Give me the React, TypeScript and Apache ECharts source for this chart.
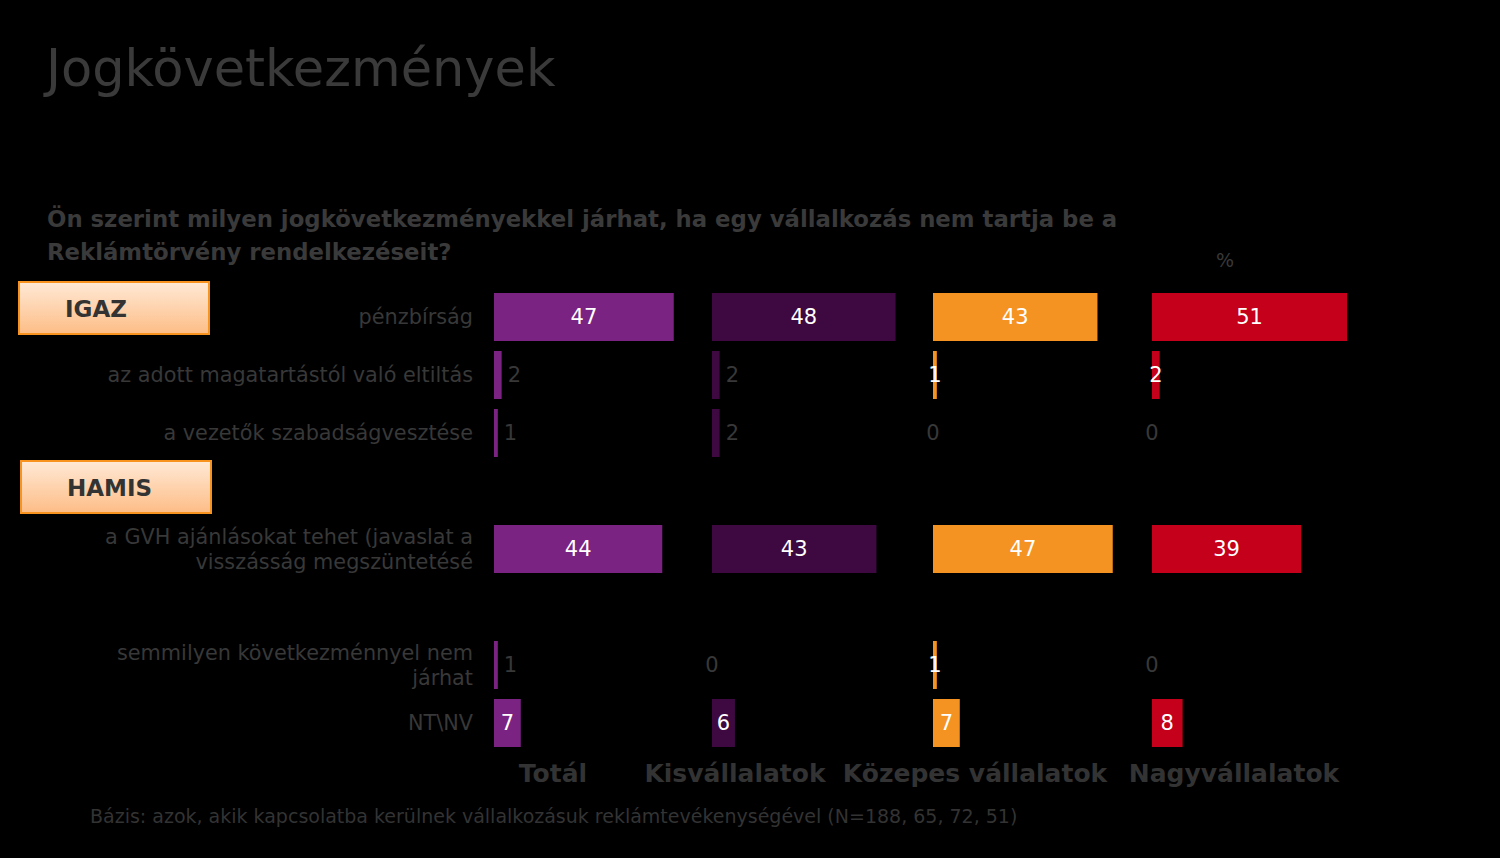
import React, { useEffect, useRef } from "react";
import * as echarts from "echarts";

const categories = [
  "pénzbírság",
  "az adott magatartástól való eltiltás",
  "a vezetők szabadságvesztése",
  "",
  "a GVH ajánlásokat tehet (javaslat a\nvisszásság megszüntetésé",
  " ",
  "semmilyen következménnyel nem\njárhat",
  "NT\\NV",
];

const seriesNames = ["Totál", "Kisvállalatok", "Közepes vállalatok", "Nagyvállalatok"];
const totalValues = [47, 2, 1, null, 44, null, 1, 7];
const kisValues = [48, 2, 2, null, 43, null, 0, 6];
const kozepesValues = [43, 1, 0, null, 47, null, 1, 7];
const nagyValues = [51, 2, 0, null, 39, null, 0, 8];

const colors = ["#7b2382", "#3d0940", "#f59322", "#c5001a"];
const smallModes = ["right", "right", "inside", "inside"];
const gridLefts = [494, 712, 933, 1152];
const nameCenters = [553, 735, 975, 1234];

const GRAY = "#383838";
const FONT = "DejaVu Sans";

function makeItem(v: number | null, mode: string) {
  if (v === null) return null;
  let label: any;
  if (v >= 5) label = { position: "inside", color: "#ffffff" };
  else if (v === 0) label = { position: "inside", color: GRAY };
  else if (mode === "right") label = { position: "right", color: GRAY, distance: 6 };
  else label = { position: "inside", color: "#ffffff" };
  return { value: v, label };
}

export default function App() {
  const ref = useRef<HTMLDivElement>(null);
  useEffect(() => {
    document.body.style.margin = "0";
    document.body.style.background = "#000";
    const chart = echarts.init(ref.current!, null, { renderer: "svg" });
    const all = [totalValues, kisValues, kozepesValues, nagyValues];
    const grids = gridLefts.map((l) => ({ left: l, top: 288, width: 218, height: 464 }));
    const xAxes = gridLefts.map((_, i) => ({
      type: "value",
      gridIndex: i,
      min: 0,
      max: 57,
      show: false,
    }));
    const yAxes = gridLefts.map((_, i) => ({
      type: "category",
      gridIndex: i,
      data: categories,
      inverse: true,
      axisLine: { show: false },
      axisTick: { show: false },
      splitLine: { show: false },
      axisLabel: {
        show: i === 0,
        color: GRAY,
        fontFamily: FONT,
        fontSize: 20.8,
        margin: 21,
        lineHeight: 25,
        align: "right",
      },
    }));
    const series = all.map((vals, i) => ({
      type: "bar",
      name: seriesNames[i],
      xAxisIndex: i,
      yAxisIndex: i,
      barWidth: 48,
      itemStyle: { color: colors[i] },
      label: { show: true, fontFamily: FONT, fontSize: 21 },
      data: vals.map((v) => makeItem(v, smallModes[i])),
    }));
    const boxStyle = (text: string, x: number, y: number) => ({
      type: "group",
      x,
      y,
      children: [
        {
          type: "rect",
          shape: { x: 0, y: 0, width: 190, height: 52 },
          style: {
            fill: new echarts.graphic.LinearGradient(0, 0, 0, 1, [
              { offset: 0, color: "#ffe9d6" },
              { offset: 1, color: "#fdbd86" },
            ]),
            stroke: "#f7931e",
            lineWidth: 2,
          },
        },
        {
          type: "text",
          x: 46,
          y: 27,
          style: {
            text,
            fill: "#333333",
            font: `bold 23px ${FONT}`,
            align: "left",
            verticalAlign: "middle",
          },
        },
      ],
    });
    const graphic: any[] = [
      {
        type: "text",
        x: 46,
        y: 68,
        style: {
          text: "Jogkövetkezmények",
          fill: "#3a3a3a",
          font: `51px ${FONT}`,
          verticalAlign: "middle",
        },
      },
      {
        type: "text",
        x: 47,
        y: 202,
        style: {
          text:
            "Ön szerint milyen jogkövetkezményekkel járhat, ha egy vállalkozás nem tartja be a\nReklámtörvény rendelkezéseit?",
          fill: "#3a3a3a",
          font: `bold 22.8px ${FONT}`,
          lineHeight: 33,
        },
      },
      {
        type: "text",
        x: 1225,
        y: 260,
        style: { text: "%", fill: GRAY, font: `19px ${FONT}`, align: "center", verticalAlign: "middle" },
      },
      boxStyle("IGAZ", 19, 282),
      boxStyle("HAMIS", 21, 461),
      ...seriesNames.map((n, i) => ({
        type: "text",
        x: nameCenters[i],
        y: 773,
        style: {
          text: n,
          fill: "#333333",
          font: `bold 25px ${FONT}`,
          align: "center",
          verticalAlign: "middle",
        },
      })),
      {
        type: "text",
        x: 90,
        y: 816,
        style: {
          text: "Bázis: azok, akik kapcsolatba kerülnek vállalkozásuk reklámtevékenységével (N=188, 65, 72, 51)",
          fill: "#333333",
          font: `19px ${FONT}`,
          verticalAlign: "middle",
        },
      },
    ];
    chart.setOption({
      animation: false,
      backgroundColor: "#000000",
      grid: grids,
      xAxis: xAxes,
      yAxis: yAxes,
      series,
      graphic,
    });
    return () => chart.dispose();
  }, []);
  return <div ref={ref} style={{ width: 1500, height: 858, background: "#000" }} />;
}
